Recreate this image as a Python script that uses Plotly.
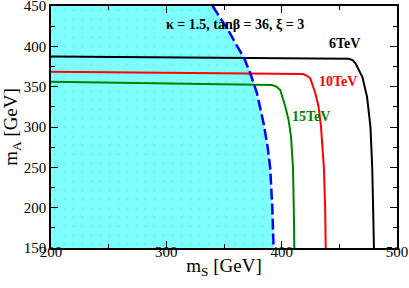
import plotly.graph_objects as go

# Excluded region boundary (blue dashed)
ms_b = [340.1, 353.7, 361.5, 367.6, 372.8, 378.6, 384.3, 387.8, 390.0, 391.9, 393.0]
ma_b = [450, 420, 400, 385, 366.6, 341.8, 304.6, 275.6, 250, 200, 150]

# 6 TeV contour
ms_6 = [200, 300, 400, 458, 461.5, 464, 470, 474, 477, 478.5, 479.3, 480]
ma_6 = [387.5, 386.5, 385.5, 384.7, 383, 379, 362, 337.6, 300, 250, 200, 150]

# 10 TeV contour
ms_10 = [200, 300, 418.5, 422, 424.8, 429.2, 432, 434.1, 435.5, 436.6, 437.7, 438.2]
ma_10 = [368.6, 367.3, 365.7, 363.5, 360.4, 341.8, 325.2, 300.4, 271.5, 250, 200, 150]

# 15 TeV contour
ms_15 = [200, 300, 391.6, 395.5, 398.8, 403.2, 406, 408.1, 409.8, 410.5, 411]
ma_15 = [356.2, 354.2, 352, 350, 345.9, 325.2, 308.7, 288, 250, 200, 150]

FONT = "Liberation Serif, Times New Roman, Times, serif"

fig = go.Figure()

fig.add_trace(go.Scatter(
    x=ms_b + [200, 200], y=ma_b + [150, 450],
    fill="toself", mode="lines", line=dict(width=0),
    fillcolor="rgb(128,255,255)",
    fillpattern=dict(shape=".", fgcolor="rgb(70,225,235)", bgcolor="rgb(128,255,255)",
                     size=9, solidity=0.05),
    hoverinfo="skip", showlegend=False))

fig.add_trace(go.Scatter(x=ms_6, y=ma_6, mode="lines",
                         line=dict(color="black", width=2), showlegend=False))
fig.add_trace(go.Scatter(x=ms_10, y=ma_10, mode="lines",
                         line=dict(color="red", width=2), showlegend=False))
fig.add_trace(go.Scatter(x=ms_15, y=ma_15, mode="lines",
                         line=dict(color="green", width=2), showlegend=False))
fig.add_trace(go.Scatter(x=ms_b, y=ma_b, mode="lines",
                         line=dict(color="blue", width=2.5, dash="11px,4px"), showlegend=False))

ann_font = dict(family=FONT, size=14)
fig.add_annotation(x=359.8, y=427.5, text="<b>κ = 1.5, tanβ = 36, ξ = 3</b>",
                   showarrow=False, font=dict(ann_font, color="black"))
fig.add_annotation(x=454.3, y=402.9, text="<b>6TeV</b>",
                   showarrow=False, font=dict(ann_font, color="black"))
fig.add_annotation(x=449.1, y=357, text="<b>10TeV</b>",
                   showarrow=False, font=dict(ann_font, color="red"))
fig.add_annotation(x=425.7, y=313.6, text="<b>15TeV</b>",
                   showarrow=False, font=dict(ann_font, color="green"))

axis_common = dict(
    showgrid=False, zeroline=False, showline=True, linecolor="black", linewidth=1.5,
    mirror="allticks", ticks="inside", ticklen=7, tickwidth=1.2, tickcolor="black",
    tickfont=dict(family=FONT, size=15, color="black"), automargin=False,
    ticklabeloverflow="allow",
)

fig.update_xaxes(range=[200, 500], tickmode="linear", tick0=200, dtick=100,
                 minor=dict(ticks="inside", ticklen=4, tickwidth=1, tickcolor="black", dtick=50),
                 ticklabelstandoff=-11,
                 title=dict(text="m<sub>S</sub> [GeV]", font=dict(family=FONT, size=19, color="black"),
                            standoff=0),
                 **axis_common)
fig.update_yaxes(range=[150, 450], tickmode="linear", tick0=150, dtick=50,
                 minor=dict(ticks="inside", ticklen=4, tickwidth=1, tickcolor="black", dtick=25),
                 title=dict(text="m<sub>A</sub> [GeV]", font=dict(family=FONT, size=19, color="black"),
                            standoff=4),
                 **axis_common)

fig.update_layout(
    width=409, height=288,
    margin=dict(l=51, r=12, t=6, b=40),
    plot_bgcolor="white", paper_bgcolor="white",
    font=dict(family=FONT),
)

fig.write_html("out.html", config={"displayModeBar": False},
               post_script="document.body.style.margin='0';")
